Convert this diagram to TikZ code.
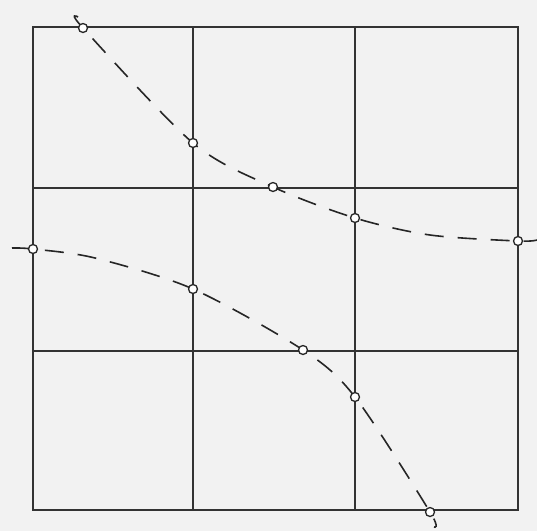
\documentclass[tikz,border=0pt]{standalone}
\begin{document}
\begin{tikzpicture}[x=1pt,y=-1pt,
  gridline/.style={draw=black!80,line width=2pt},
  curveline/.style={draw=black!85,line width=1.6pt,dash pattern=on 19pt off 14pt},
  mk/.style={circle,draw=black!85,fill=white,line width=1.3pt,minimum size=9pt,inner sep=0pt}]
\fill[black!5] (0,0) rectangle (537,531);
\useasboundingbox (0,0) rectangle (537,531);
% grid
\draw[gridline] (33,27) rectangle (518,510);
\draw[gridline] (193,27) -- (193,510);
\draw[gridline] (355,27) -- (355,510);
\draw[gridline] (33,188) -- (518,188);
\draw[gridline] (33,351) -- (518,351);
% upper curve points
\coordinate (u0) at (78,17);
\coordinate (u1) at (83,28);
\coordinate (u2) at (193,143);
\coordinate (u3) at (273,187);
\coordinate (u4) at (355,218);
\coordinate (ua) at (430,235);
\coordinate (u5) at (518,241);
\coordinate (u6) at (537,240);
% lower curve points
\coordinate (l0) at (12,248);
\coordinate (l1) at (33,249);
\coordinate (la) at (95,258);
\coordinate (l2) at (193,289);
\coordinate (l3) at (303,350);
\coordinate (l4) at (355,397);
\coordinate (l5) at (430,512);
\coordinate (l6) at (434,527);
\draw[curveline] plot[smooth,tension=0.5] coordinates {(u0) (u1) (u2) (u3) (u4) (ua) (u5) (u6)};
\draw[curveline] plot[smooth,tension=0.5] coordinates {(l0) (l1) (la) (l2) (l3) (l4) (l5) (l6)};
\foreach \p in {u1,u2,u3,u4,u5,l1,l2,l3,l4,l5}
  \node[mk] (m\p) at (\p) {};
\end{tikzpicture}
\end{document}
